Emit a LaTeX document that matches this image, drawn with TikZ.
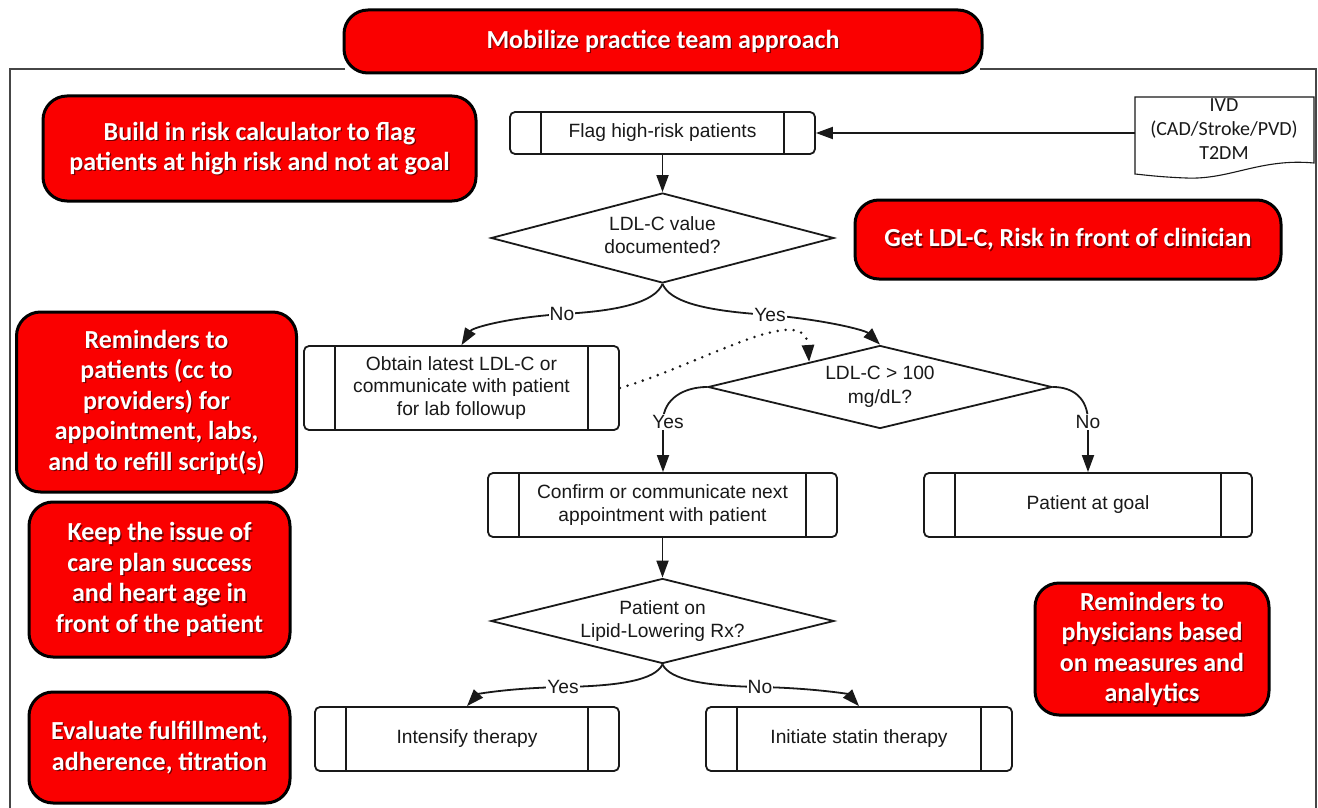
\documentclass[tikz,border=0pt]{standalone}
\usepackage{fontspec}
\setmainfont{Liberation Sans}
\newfontfamily\calfont{Carlito}
\usetikzlibrary{arrows.meta,calc,shapes.geometric}
\definecolor{boxred}{RGB}{250,0,0}
\definecolor{framegray}{RGB}{70,70,70}
\definecolor{ink}{RGB}{25,25,25}
\tikzset{
  redbox/.style={draw=black, line width=3pt, fill=boxred, rounded corners=24pt},
  redtext/.style={text=white, font=\calfont\bfseries\fontsize{26}{30.5}\selectfont, align=center, inner sep=0pt},
  redshadow/.style={redtext, text=black, opacity=0.55},
  proc/.style={draw=ink, line width=1.8pt, rounded corners=5pt, fill=white, align=center, text=ink, font=\fontsize{19.2}{22.5}\selectfont, inner sep=0pt},
  procline/.style={draw=ink, line width=1.8pt},
  decision/.style={draw=ink, line width=1.8pt, diamond, inner sep=0pt, fill=white},
  dectext/.style={align=center, text=ink, font=\fontsize{19.2}{23.5}\selectfont, inner sep=0pt},
  doctext/.style={align=center, text=ink, font=\calfont\fontsize{20}{24}\selectfont, inner sep=0pt},
  docshape/.style={draw=ink, line width=1.1pt, fill=white},
  arr/.style={draw=ink, line width=1.8pt, -{Triangle[length=17pt,width=12pt]}},
  dotarr/.style={arr, line width=2.8pt, line cap=round, dash pattern=on 0pt off 8pt},
  lbl/.style={fill=white, inner sep=1pt, text=ink, font=\fontsize{19.2}{22}\selectfont},
  frame/.style={draw=framegray, line width=1.6pt},
}
\newcommand\redbox[6]{%
  \node[redbox, minimum width=#4pt, minimum height=#5pt] (#1) at (#2,#3) {};
  \node[redshadow] (#1s) at ([xshift=1.3pt,yshift=-1.3pt]#1.center) {#6};
  \node[redtext] (#1t) at (#1.center) {#6};
}
\newcommand\procbox[6]{%
  \node[proc, minimum width=#4pt, minimum height=#5pt] (#1) at (#2,#3) {#6};
  \draw[procline] ([xshift=32pt]#1.north west) -- ([xshift=32pt]#1.south west);
  \draw[procline] ([xshift=-32pt]#1.north east) -- ([xshift=-32pt]#1.south east);
}
\begin{document}
\begin{tikzpicture}[x=1pt,y=-1pt]
\useasboundingbox[fill=white] (0,0) rectangle (1318,808);

% outer frame
\draw[frame] (345,69) -- (10,69) -- (10,808);
\draw[frame] (980,69) -- (1316,69) -- (1316,808);

% red boxes
\redbox{title}{663}{41.5}{638}{63}{Mobilize practice team approach}
\redbox{build}{259.5}{148.5}{433}{105}{Build in risk calculator to flag\\patients at high risk and not at goal}
\redbox{getldl}{1068}{239.5}{426}{79}{Get LDL-C, Risk in front of clinician}
\redbox{remind}{156.5}{402}{280}{180}{Reminders to\\patients (cc to\\providers) for\\appointment, labs,\\and to refill script(s)}
\redbox{keep}{159.5}{579.5}{261}{155}{Keep the issue of\\care plan success\\and heart age in\\front of the patient}
\redbox{evalb}{159.5}{747.5}{261}{111}{Evaluate fulfillment,\\adherence, titration}
\redbox{phys}{1152}{649}{234}{132}{Reminders to\\physicians based\\on measures and\\analytics}

% document shape
\draw[docshape] (1135,97) -- (1314,97) -- (1314,163) .. controls (1260,158) and (1230,180) .. (1186,178) .. controls (1160,177) and (1145,175) .. (1135,174) -- cycle;
\node[doctext] (ivd) at (1224,129) {IVD\\(CAD/Stroke/PVD)\\T2DM};
\coordinate (docw) at (1135,133);

% process boxes
\procbox{flag}{662.5}{133}{305}{42}{Flag high-risk patients}
\procbox{obtain}{461.5}{388}{315}{84}{Obtain latest LDL-C or\\communicate with patient\\for lab followup}
\procbox{confirm}{662.5}{505}{349}{64}{Confirm or communicate next\\appointment with patient}
\procbox{goal}{1088}{505}{328}{64}{Patient at goal}
\procbox{intens}{467}{739}{304}{64}{Intensify therapy}
\procbox{initiate}{859}{739}{306}{64}{Initiate statin therapy}

% decisions
\node[decision, minimum width=343pt, minimum height=90pt] (d1) at (662.5,238) {};
\node[dectext] (d1t) at (662.5,235) {LDL-C value\\documented?};
\node[decision, minimum width=344pt, minimum height=83pt] (d2) at (880,387) {};
\node[dectext] (d2t) at (880,387) {LDL-C > 100\\mg/dL?};
\node[decision, minimum width=343pt, minimum height=85pt] (d3) at (662.5,621) {};
\node[dectext] (d3t) at (662.5,621) {Patient on\\Lipid-Lowering Rx?};

% connectors
\draw[arr] (docw) -- (flag.east);
\draw[arr] (flag.south) -- (d1.north);
\draw[arr] (d1.south) .. controls (655,302) and (620,311) .. (562,314) node[lbl]{No}
   .. controls (505,318) and (472,328) .. (obtain.north);
\draw[arr] (d1.south) .. controls (670,302) and (705,311) .. (770,315) node[lbl]{Yes}
   .. controls (825,320) and (865,330) .. (d2.north);
\draw[dotarr] (obtain.east) .. controls (700,365) and (805,300) .. ($(d2.north)!0.41!(d2.west)$);
\draw[arr] (d2.west) .. controls (685,387) and (663,398) .. (663,422) node[lbl,xshift=5pt]{Yes} -- (confirm.north -| 663,0);
\draw[arr] (d2.east) .. controls (1073,387) and (1088,398) .. (1088,422) node[lbl]{No} -- (goal.north);
\draw[arr] (confirm.south) -- (d3.north);
\draw[arr] (d3.south) .. controls (655,680) and (620,686) .. (563,687) node[lbl]{Yes}
   .. controls (510,688) and (478,694) .. (intens.north);
\draw[arr] (d3.south) .. controls (670,680) and (705,686) .. (760,687) node[lbl]{No}
   .. controls (812,688) and (848,694) .. (initiate.north);
\end{tikzpicture}
\end{document}
